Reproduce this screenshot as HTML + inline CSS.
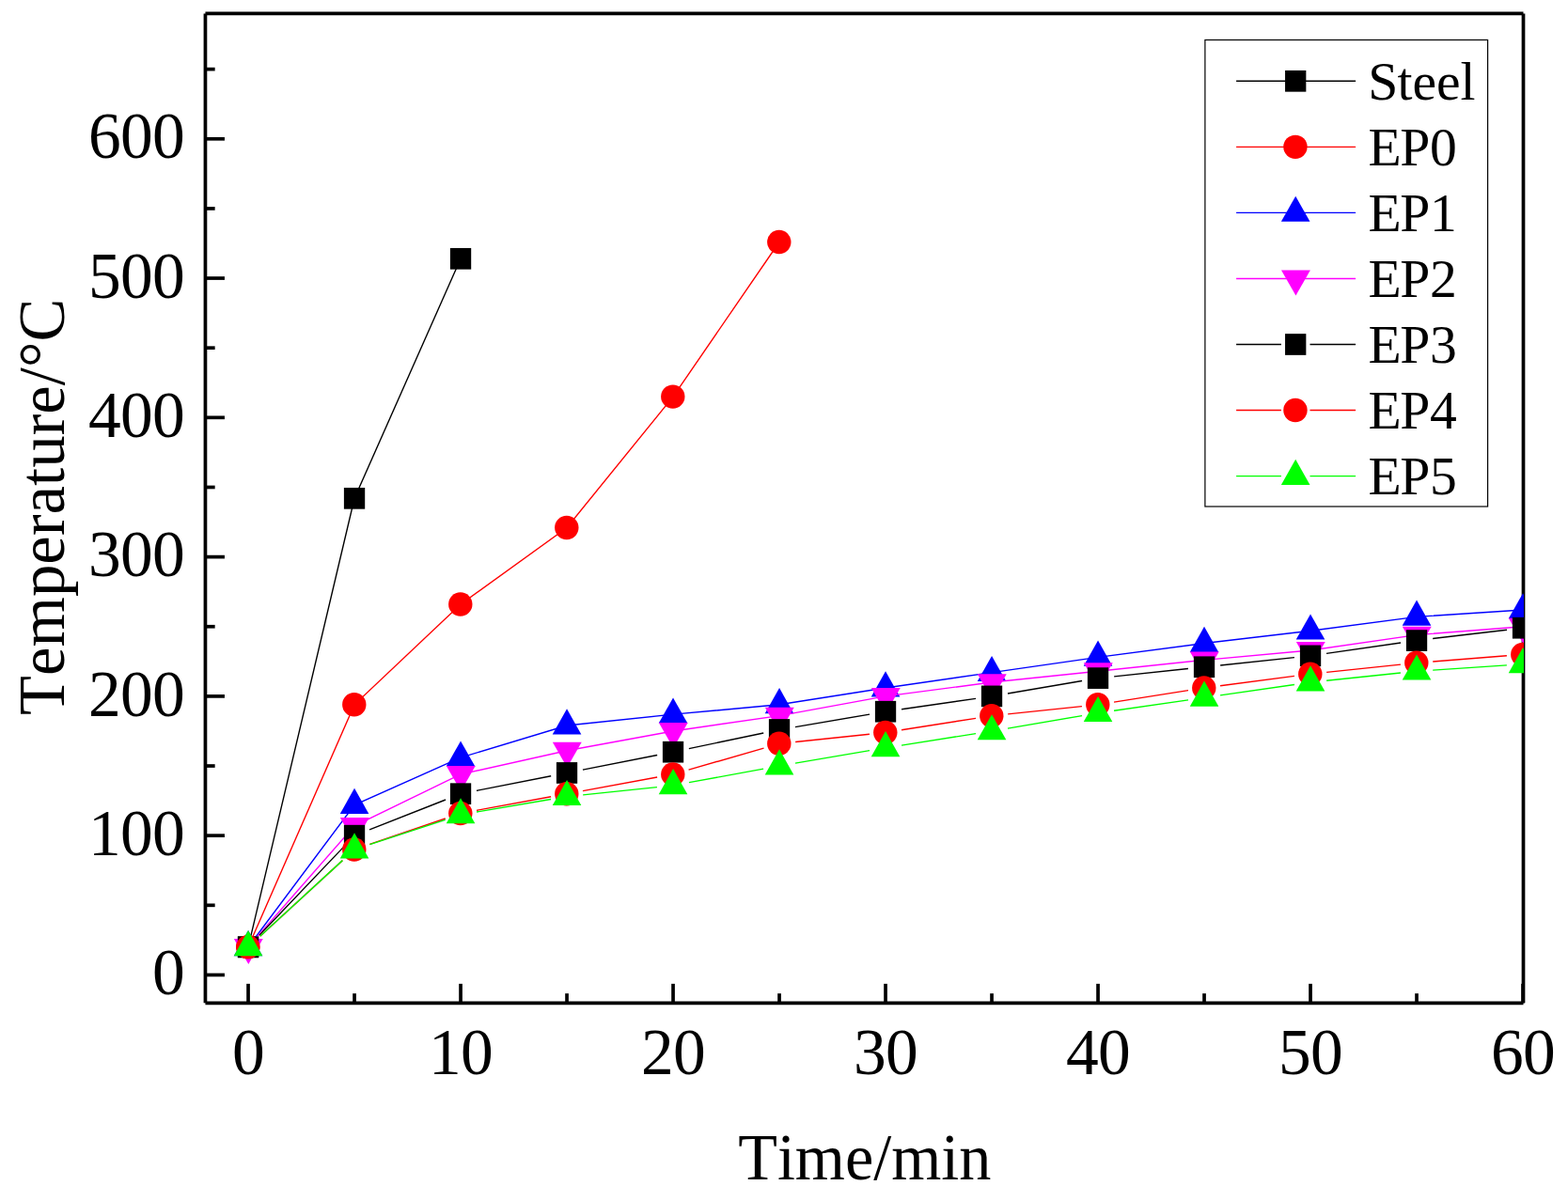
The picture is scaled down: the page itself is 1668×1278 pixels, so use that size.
<!DOCTYPE html>
<html lang="en">
<head>
<meta charset="utf-8">
<title>Temperature vs Time</title>
<style>
html,body{margin:0;padding:0;background:#fff;}
body{width:1668px;height:1278px;overflow:hidden;}
svg{display:block;}
text{font-family:"Liberation Serif","Times New Roman",serif;fill:#000;font-kerning:none;}
.tk{font-size:69.44px;}
.lg{font-size:57.6px;}
</style>
</head>
<body>
<svg width="1668" height="1278" viewBox="0 0 1668 1278">
<rect width="1668" height="1278" fill="#fff"/>
<defs><clipPath id="plot"><rect x="218.45" y="14.45" width="1402.55" height="1052.9"/></clipPath></defs>
<g stroke="#000" stroke-width="3.7" fill="none">
<line x1="218.45" y1="14.45" x2="218.45" y2="1067.35"/>
<line x1="1620.5" y1="14.45" x2="1620.5" y2="1067.35"/>
<line x1="218.45" y1="14.45" x2="1620.5" y2="14.45"/>
<line x1="218.45" y1="1067.35" x2="1620.5" y2="1067.35"/>
<line x1="218.45" y1="1037.45" x2="238.95" y2="1037.45"/>
<line x1="218.45" y1="963.31" x2="228.65" y2="963.31"/>
<line x1="218.45" y1="889.17" x2="238.95" y2="889.17"/>
<line x1="218.45" y1="815.03" x2="228.65" y2="815.03"/>
<line x1="218.45" y1="740.89" x2="238.95" y2="740.89"/>
<line x1="218.45" y1="666.75" x2="228.65" y2="666.75"/>
<line x1="218.45" y1="592.61" x2="238.95" y2="592.61"/>
<line x1="218.45" y1="518.47" x2="228.65" y2="518.47"/>
<line x1="218.45" y1="444.33" x2="238.95" y2="444.33"/>
<line x1="218.45" y1="370.19" x2="228.65" y2="370.19"/>
<line x1="218.45" y1="296.05" x2="238.95" y2="296.05"/>
<line x1="218.45" y1="221.91" x2="228.65" y2="221.91"/>
<line x1="218.45" y1="147.77" x2="238.95" y2="147.77"/>
<line x1="218.45" y1="73.63" x2="228.65" y2="73.63"/>
<line x1="264.04" y1="1067.35" x2="264.04" y2="1046.85"/>
<line x1="377.04" y1="1067.35" x2="377.04" y2="1057.15"/>
<line x1="490.04" y1="1067.35" x2="490.04" y2="1046.85"/>
<line x1="603.04" y1="1067.35" x2="603.04" y2="1057.15"/>
<line x1="716.04" y1="1067.35" x2="716.04" y2="1046.85"/>
<line x1="829.04" y1="1067.35" x2="829.04" y2="1057.15"/>
<line x1="942.04" y1="1067.35" x2="942.04" y2="1046.85"/>
<line x1="1055.04" y1="1067.35" x2="1055.04" y2="1057.15"/>
<line x1="1168.04" y1="1067.35" x2="1168.04" y2="1046.85"/>
<line x1="1281.04" y1="1067.35" x2="1281.04" y2="1057.15"/>
<line x1="1394.04" y1="1067.35" x2="1394.04" y2="1046.85"/>
<line x1="1507.04" y1="1067.35" x2="1507.04" y2="1057.15"/>
<line x1="1620.04" y1="1067.35" x2="1620.04" y2="1046.85"/>
</g>
<g class="tk">
<text x="162" y="1058">0</text>
<text x="94 128 162" y="910">100</text>
<text x="94 128 162" y="762">200</text>
<text x="94 128 162" y="613">300</text>
<text x="94 128 162" y="465">400</text>
<text x="94 128 162" y="317">500</text>
<text x="94 128 162" y="168">600</text>
</g>
<g class="tk">
<text x="247" y="1143">0</text>
<text x="456 490" y="1143">10</text>
<text x="682 716" y="1143">20</text>
<text x="908 942" y="1143">30</text>
<text x="1134 1168" y="1143">40</text>
<text x="1360 1394" y="1143">50</text>
<text x="1586 1620" y="1143">60</text>
<text x="785.2" y="1255" textLength="269.2" lengthAdjust="spacingAndGlyphs">Time/min</text>
<text transform="translate(68 760.9) rotate(-90)" textLength="443.1" lengthAdjust="spacingAndGlyphs">Temperature/°C</text>
</g>
<g clip-path="url(#plot)">
<polyline points="264.04,1007.79 377.04,530.33 490.04,275.29" fill="none" stroke="#000000" stroke-width="1.39"/>
<rect x="252.89" y="996.44" width="22.3" height="22.7" fill="#000000"/>
<rect x="365.89" y="518.98" width="22.3" height="22.7" fill="#000000"/>
<rect x="478.89" y="263.94" width="22.3" height="22.7" fill="#000000"/>
<polyline points="264.04,1007.79 377.04,749.79 490.04,643.03 603.04,561.47 716.04,422.09 829.04,257.5" fill="none" stroke="#ff0000" stroke-width="1.39"/>
<circle cx="263.79" cy="1007.79" r="12.7" fill="#ff0000"/>
<circle cx="376.79" cy="749.79" r="12.7" fill="#ff0000"/>
<circle cx="489.79" cy="643.03" r="12.7" fill="#ff0000"/>
<circle cx="602.79" cy="561.47" r="12.7" fill="#ff0000"/>
<circle cx="715.79" cy="422.09" r="12.7" fill="#ff0000"/>
<circle cx="828.79" cy="257.5" r="12.7" fill="#ff0000"/>
<polyline points="264.04,1007.79 377.04,856.55 490.04,806.13 603.04,772.03 716.04,760.17 829.04,749.79 942.04,731.99 1055.04,715.68 1168.04,699.37 1281.04,684.54 1394.04,671.2 1507.04,656.37 1620.04,648.96" fill="none" stroke="#0000ff" stroke-width="1.39"/>
<polygon points="264.04,990.04 279.34,1017.19 248.74,1017.19" fill="#0000ff"/>
<polygon points="377.04,838.8 392.34,865.95 361.74,865.95" fill="#0000ff"/>
<polygon points="490.04,788.38 505.34,815.53 474.74,815.53" fill="#0000ff"/>
<polygon points="603.04,754.28 618.34,781.43 587.74,781.43" fill="#0000ff"/>
<polygon points="716.04,742.42 731.34,769.57 700.74,769.57" fill="#0000ff"/>
<polygon points="829.04,732.04 844.34,759.19 813.74,759.19" fill="#0000ff"/>
<polygon points="942.04,714.24 957.34,741.39 926.74,741.39" fill="#0000ff"/>
<polygon points="1055.04,697.93 1070.34,725.08 1039.74,725.08" fill="#0000ff"/>
<polygon points="1168.04,681.62 1183.34,708.77 1152.74,708.77" fill="#0000ff"/>
<polygon points="1281.04,666.79 1296.34,693.94 1265.74,693.94" fill="#0000ff"/>
<polygon points="1394.04,653.45 1409.34,680.6 1378.74,680.6" fill="#0000ff"/>
<polygon points="1507.04,638.62 1522.34,665.77 1491.74,665.77" fill="#0000ff"/>
<polygon points="1620.04,631.21 1635.34,658.36 1604.74,658.36" fill="#0000ff"/>
<polyline points="264.04,1007.79 377.04,878.79 490.04,823.93 603.04,798.72 716.04,777.96 829.04,761.65 942.04,740.89 1055.04,726.06 1168.04,714.2 1281.04,702.34 1394.04,691.96 1507.04,675.65 1620.04,666.75" fill="none" stroke="#ff00ff" stroke-width="1.39"/>
<polygon points="264.29,1025.89 279.74,998.89 248.84,998.89" fill="#ff00ff"/>
<polygon points="377.29,896.89 392.74,869.89 361.84,869.89" fill="#ff00ff"/>
<polygon points="490.29,842.03 505.74,815.03 474.84,815.03" fill="#ff00ff"/>
<polygon points="603.29,816.82 618.74,789.82 587.84,789.82" fill="#ff00ff"/>
<polygon points="716.29,796.06 731.74,769.06 700.84,769.06" fill="#ff00ff"/>
<polygon points="829.29,779.75 844.74,752.75 813.84,752.75" fill="#ff00ff"/>
<polygon points="942.29,758.99 957.74,731.99 926.84,731.99" fill="#ff00ff"/>
<polygon points="1055.29,744.16 1070.74,717.16 1039.84,717.16" fill="#ff00ff"/>
<polygon points="1168.29,732.3 1183.74,705.3 1152.84,705.3" fill="#ff00ff"/>
<polygon points="1281.29,720.44 1296.74,693.44 1265.84,693.44" fill="#ff00ff"/>
<polygon points="1394.29,710.06 1409.74,683.06 1378.84,683.06" fill="#ff00ff"/>
<polygon points="1507.29,693.75 1522.74,666.75 1491.84,666.75" fill="#ff00ff"/>
<polygon points="1620.29,684.85 1635.74,657.85 1604.84,657.85" fill="#ff00ff"/>
<path d="M275.9 995.34L365.18 901.62M393.04 882.87L474.04 850.99M506.92 841.36L586.16 825.77M619.92 819.12L699.16 803.52M732.87 796.67L812.21 780.01M846 773.58L925.08 760.09M959.06 754.74L1038.02 743.35M1072 738L1151.08 724.51M1185.15 719.82L1263.93 711.55M1298.15 707.96L1376.93 699.68M1411.06 695.43L1490.02 684.04M1524.12 679.56L1602.96 670.25" fill="none" stroke="#000000" stroke-width="1.39"/>
<rect x="252.89" y="996.44" width="22.3" height="22.7" fill="#000000"/>
<rect x="365.89" y="877.82" width="22.3" height="22.7" fill="#000000"/>
<rect x="478.89" y="833.34" width="22.3" height="22.7" fill="#000000"/>
<rect x="591.89" y="811.09" width="22.3" height="22.7" fill="#000000"/>
<rect x="704.89" y="788.85" width="22.3" height="22.7" fill="#000000"/>
<rect x="817.89" y="765.13" width="22.3" height="22.7" fill="#000000"/>
<rect x="930.89" y="745.85" width="22.3" height="22.7" fill="#000000"/>
<rect x="1043.89" y="729.54" width="22.3" height="22.7" fill="#000000"/>
<rect x="1156.89" y="710.26" width="22.3" height="22.7" fill="#000000"/>
<rect x="1269.89" y="698.4" width="22.3" height="22.7" fill="#000000"/>
<rect x="1382.89" y="686.54" width="22.3" height="22.7" fill="#000000"/>
<rect x="1495.89" y="670.23" width="22.3" height="22.7" fill="#000000"/>
<rect x="1608.89" y="656.88" width="22.3" height="22.7" fill="#000000"/>
<path d="M276.71 996.16L364.37 915.63M393.32 898.44L473.76 871M506.96 862.34L586.12 847.79M619.96 841.58L699.12 827.03M732.57 819.16L812.51 796.08M846.15 789.51L924.93 781.24M959.03 776.77L1038.05 764.32M1072.15 759.85L1150.93 751.58M1185.03 747.11L1264.05 734.67M1298.09 729.76L1376.99 719.4M1411.15 715.37L1489.93 707.1M1524.19 703.95L1602.89 697.76" fill="none" stroke="#ff0000" stroke-width="1.39"/>
<circle cx="263.79" cy="1007.79" r="12.7" fill="#ff0000"/>
<circle cx="376.79" cy="904" r="12.7" fill="#ff0000"/>
<circle cx="489.79" cy="865.45" r="12.7" fill="#ff0000"/>
<circle cx="602.79" cy="844.69" r="12.7" fill="#ff0000"/>
<circle cx="715.79" cy="823.93" r="12.7" fill="#ff0000"/>
<circle cx="828.79" cy="791.31" r="12.7" fill="#ff0000"/>
<circle cx="941.79" cy="779.44" r="12.7" fill="#ff0000"/>
<circle cx="1054.79" cy="761.65" r="12.7" fill="#ff0000"/>
<circle cx="1167.79" cy="749.79" r="12.7" fill="#ff0000"/>
<circle cx="1280.79" cy="731.99" r="12.7" fill="#ff0000"/>
<circle cx="1393.79" cy="717.17" r="12.7" fill="#ff0000"/>
<circle cx="1506.79" cy="705.3" r="12.7" fill="#ff0000"/>
<circle cx="1619.79" cy="696.41" r="12.7" fill="#ff0000"/>
<path d="M276.71 996.16L364.37 915.63M393.38 898.64L473.7 872.29M507 864.04L586.08 850.54M620.15 845.86L698.93 837.58M732.96 832.68L812.12 818.14M846 812.14L925.08 798.65M959.03 793.08L1038.05 780.64M1072 775.07L1151.08 761.58M1185.06 756.23L1264.02 744.83M1298.06 739.92L1377.02 728.52M1411.15 724.27L1489.93 716M1524.2 713.07L1602.88 707.91" fill="none" stroke="#00ff00" stroke-width="1.39"/>
<polygon points="264.04,990.04 279.34,1017.19 248.74,1017.19" fill="#00ff00"/>
<polygon points="377.04,886.25 392.34,913.4 361.74,913.4" fill="#00ff00"/>
<polygon points="490.04,849.18 505.34,876.33 474.74,876.33" fill="#00ff00"/>
<polygon points="603.04,829.9 618.34,857.05 587.74,857.05" fill="#00ff00"/>
<polygon points="716.04,818.04 731.34,845.19 700.74,845.19" fill="#00ff00"/>
<polygon points="829.04,797.28 844.34,824.43 813.74,824.43" fill="#00ff00"/>
<polygon points="942.04,778 957.34,805.15 926.74,805.15" fill="#00ff00"/>
<polygon points="1055.04,760.21 1070.34,787.36 1039.74,787.36" fill="#00ff00"/>
<polygon points="1168.04,740.93 1183.34,768.08 1152.74,768.08" fill="#00ff00"/>
<polygon points="1281.04,724.62 1296.34,751.77 1265.74,751.77" fill="#00ff00"/>
<polygon points="1394.04,708.31 1409.34,735.46 1378.74,735.46" fill="#00ff00"/>
<polygon points="1507.04,696.45 1522.34,723.6 1491.74,723.6" fill="#00ff00"/>
<polygon points="1620.04,689.04 1635.34,716.19 1604.74,716.19" fill="#00ff00"/>
</g>
<rect x="1281.9" y="42.5" width="300.7" height="496.5" fill="#fff" stroke="#000" stroke-width="1.2"/>
<line x1="1315.1" y1="86.3" x2="1442.1" y2="86.3" stroke="#000000" stroke-width="1.39"/>
<rect x="1367.05" y="74.95" width="22.3" height="22.7" fill="#000000"/>
<text class="lg" x="1455.2 1486.4 1502.4 1527.9 1553.4" y="106">Steel</text>
<line x1="1315.1" y1="156.35" x2="1442.1" y2="156.35" stroke="#ff0000" stroke-width="1.39"/>
<circle cx="1377.95" cy="156.35" r="12.7" fill="#ff0000"/>
<text class="lg" x="1455.5 1489.3 1521" y="176">EP0</text>
<line x1="1315.1" y1="226.4" x2="1442.1" y2="226.4" stroke="#0000ff" stroke-width="1.39"/>
<polygon points="1378.2,208.65 1393.5,235.8 1362.9,235.8" fill="#0000ff"/>
<text class="lg" x="1455.5 1489.3 1521" y="246">EP1</text>
<line x1="1315.1" y1="296.45" x2="1442.1" y2="296.45" stroke="#ff00ff" stroke-width="1.39"/>
<polygon points="1378.45,314.55 1393.9,287.55 1363,287.55" fill="#ff00ff"/>
<text class="lg" x="1455.5 1489.3 1521" y="316">EP2</text>
<path d="M1315.1 366.5H1362.9M1393.5 366.5H1442.1" stroke="#000000" stroke-width="1.39" fill="none"/>
<rect x="1367.05" y="355.15" width="22.3" height="22.7" fill="#000000"/>
<text class="lg" x="1455.5 1489.3 1521" y="386">EP3</text>
<path d="M1315.1 436.55H1362.9M1393.5 436.55H1442.1" stroke="#ff0000" stroke-width="1.39" fill="none"/>
<circle cx="1377.95" cy="436.55" r="12.7" fill="#ff0000"/>
<text class="lg" x="1455.5 1489.3 1521" y="456">EP4</text>
<path d="M1315.1 506.6H1362.9M1393.5 506.6H1442.1" stroke="#00ff00" stroke-width="1.39" fill="none"/>
<polygon points="1378.2,488.85 1393.5,516 1362.9,516" fill="#00ff00"/>
<text class="lg" x="1455.5 1489.3 1521" y="526">EP5</text>
</svg>
</body>
</html>
